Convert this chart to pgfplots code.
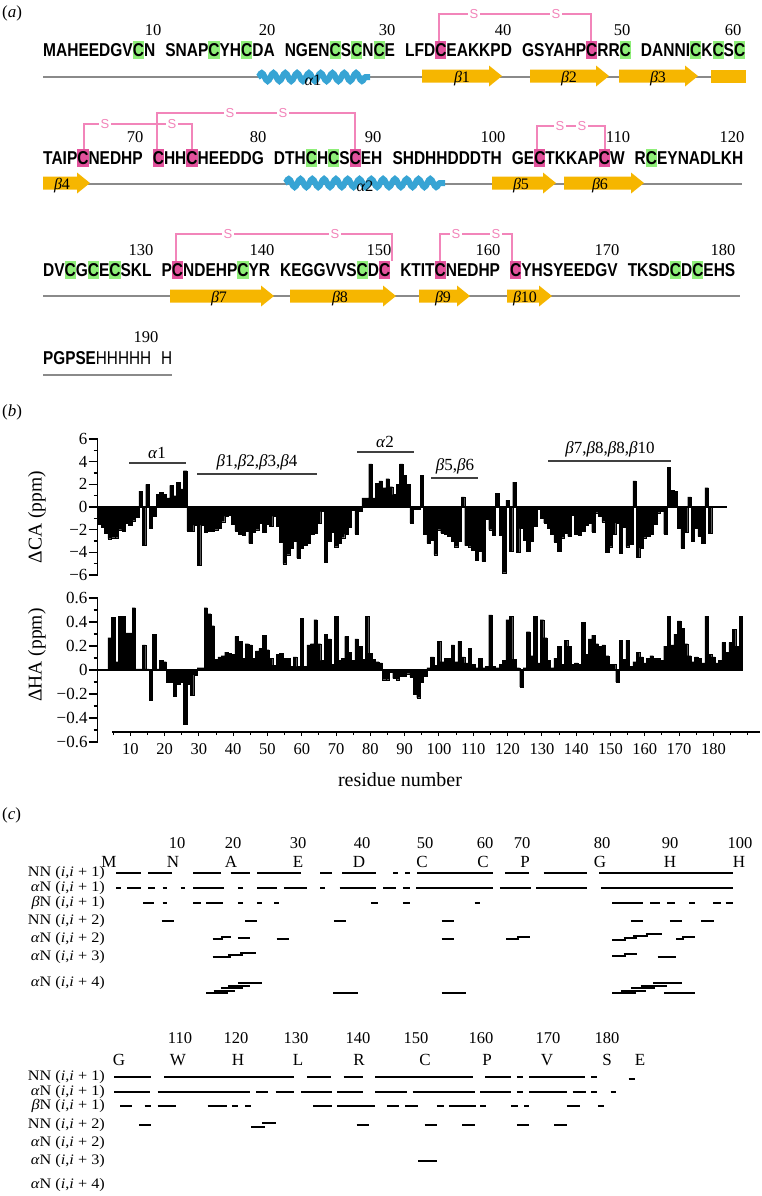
\documentclass[border=0pt]{standalone}
\usepackage{pgfplots}
\usepackage{pgfplotstable}
\pgfplotsset{compat=1.18}
\usepackage{fontspec}
\usepackage{graphicx}
\setmainfont{Liberation Serif}
\newfontfamily\seqfont{Liberation Sans}
\usetikzlibrary{decorations.pathmorphing}
\definecolor{cgreen}{HTML}{8EEE78}
\definecolor{cmag}{HTML}{E2529C}
\definecolor{cpink}{HTML}{F285BA}
\definecolor{cgold}{HTML}{F6B600}
\definecolor{cblue}{HTML}{37A4D4}
\definecolor{cgray}{HTML}{8A8A8A}
\newcommand{\fs}[1]{\fontsize{#1}{#1}\selectfont}
\newcommand{\hl}[2]{\setbox0=\hbox{#2}\rlap{\smash{\textcolor{#1}{\rule[-0.18\ht0]{\wd0}{1.36\ht0}}}}#2}
\newcommand{\G}{\hl{cgreen}{C}}
\newcommand{\M}{\hl{cmag}{C}}
\newcommand{\bs}{\hspace{0.65em}}
\newcommand{\rl}[2]{\scalebox{1.12}[1]{#1 (\textit{i},\textit{i} + #2)}}
\newcommand{\sg}[3]{\addplot[black, line width=2pt] coordinates {(#1,#3) (#2,#3)};}

\pgfplotstableread{
r v
1 -1.5
2 -1.8
3 -2.3
4 -2.8
5 -2.7
6 -2.7
7 -2.0
8 -2.1
9 -1.4
10 -1.6
11 -1.2
12 -0.9
13 1.4
14 -3.4
15 2.0
16 -1.9
17 -0.8
18 1.1
19 1.3
20 1.1
21 0.8
22 1.9
23 1.0
24 2.2
25 1.6
26 3.2
27 -2.1
28 -2.1
29 -1.6
30 -5.1
31 -1.6
32 -2.2
33 -2.1
34 -2.1
35 -2.0
36 -1.9
37 -1.3
38 -0.8
39 -0.7
40 -1.5
41 -2.1
42 -2.4
43 -2.5
44 -2.1
45 -3.2
46 -2.2
47 -2.0
48 -1.4
49 -2.2
50 -1.5
51 -1.7
52 -0.8
53 -1.7
54 -3.1
55 -5.0
56 -4.2
57 -3.6
58 -3.0
59 -4.5
60 -3.6
61 -3.4
62 -3.2
63 -2.4
64 -2.3
65 -1.4
66 -0.4
67 -4.9
68 -3.0
69 -2.2
70 -3.5
71 -3.2
72 -2.7
73 -2.4
74 -1.8
75 -0.3
76 -2.4
77 -0.4
78 0.8
79 0.8
80 3.8
81 0.8
82 2.1
83 2.3
84 1.7
85 2.5
86 1.8
87 1.1
88 2.0
89 3.8
90 2.8
91 2.0
92 -1.4
93 -0.2
94 -0.2
95 2.8
96 -2.4
97 -3.2
98 -2.9
99 -4.2
100 -2.0
101 -2.3
102 -2.4
103 -2.6
104 -3.0
105 -3.5
106 -3.0
107 0.9
108 -3.4
109 -3.5
110 -3.8
111 -4.7
112 -3.9
113 -4.8
114 -1.1
115 -2.0
116 -2.5
117 1.2
118 -2.5
119 -5.8
120 0.6
121 -3.9
122 2.2
123 -4.0
124 -1.9
125 -2.9
126 -3.9
127 -3.0
128 -1.7
129 -0.2
130 -1.0
131 -1.4
132 -1.9
133 -2.4
134 -3.1
135 -3.9
136 -2.7
137 -2.3
138 -2.6
139 -0.7
140 -2.4
141 -2.5
142 -2.1
143 -1.6
144 -1.4
145 -2.2
146 -0.5
147 -0.8
148 -1.3
149 -4.0
150 -3.5
151 -2.4
152 -1.4
153 -4.1
154 -1.8
155 -3.5
156 -3.3
157 2.3
158 -4.4
159 -3.6
160 -2.7
161 -2.6
162 -2.4
163 -1.5
164 -0.5
165 -0.4
166 -2.4
167 3.5
168 1.5
169 1.4
170 -1.9
171 -3.6
172 -2.2
173 0.9
174 -3.0
175 -1.9
176 -2.6
177 -3.2
178 1.7
179 -2.3
}\dca

\pgfplotstableread{
r v
4 0.27
5 0.44
6 0.07
7 0.45
8 0.45
9 0.31
10 0.31
11 0.52
12 0.01
13 0.01
14 0.21
15 0.01
16 -0.25
17 0.30
18 0.01
19 0.08
20 0.07
21 -0.10
22 -0.10
23 -0.22
24 -0.12
25 -0.10
26 -0.45
27 -0.12
28 -0.21
29 -0.04
30 0.02
31 0.02
32 0.52
33 0.47
34 0.37
35 0.09
36 0.11
37 0.12
38 0.15
39 0.14
40 0.13
41 0.28
42 0.24
43 0.10
44 0.22
45 0.21
46 0.10
47 0.16
48 0.18
49 0.29
50 0.17
51 0.10
52 0.04
53 0.13
54 0.14
55 0.10
56 0.10
57 0.03
58 0.11
59 0.03
60 0.43
61 0.03
62 0.21
63 0.22
64 0.42
65 0.22
66 0.08
67 0.30
68 0.26
69 0.05
70 0.45
71 0.08
72 0.10
73 0.28
74 0.15
75 0.08
76 0.26
77 0.20
78 0.09
79 0.45
80 0.14
81 0.09
82 0.07
83 0.06
84 -0.08
85 -0.08
86 -0.02
87 -0.07
88 -0.08
89 -0.05
90 -0.05
91 -0.03
92 -0.06
93 -0.20
94 -0.23
95 -0.10
96 -0.05
97 0.02
98 0.11
99 0.04
100 0.24
101 0.07
102 0.10
103 0.10
104 0.21
105 0.07
106 0.24
107 0.11
108 0.06
109 0.18
110 0.05
111 0.02
112 0.10
113 0.02
114 0.03
115 0.46
116 0.03
117 0.02
118 0.05
119 0.08
120 0.42
121 0.45
122 0.09
123 0.02
124 -0.14
125 0.02
126 0.32
127 0.12
128 0.45
129 0.06
130 0.42
131 0.27
132 0.08
133 0.02
134 0.10
135 0.20
136 0.05
137 0.25
138 0.20
139 0.05
140 0.06
141 0.05
142 0.40
143 0.13
144 0.26
145 0.29
146 0.22
147 0.20
148 0.21
149 0.12
150 0.05
151 0.05
152 -0.10
153 0.25
154 0.09
155 0.25
156 0.03
157 0.07
158 0.15
159 0.11
160 0.06
161 0.10
162 0.12
163 0.10
164 0.10
165 0.08
166 0.20
167 0.45
168 0.21
169 0.30
170 0.41
171 0.35
172 0.22
173 0.12
174 0.07
175 0.11
176 0.10
177 0.06
178 0.45
179 0.13
180 0.11
181 0.06
182 0.08
183 0.23
184 0.15
185 0.23
186 0.34
187 0.20
188 0.45
}\dha

\pgfplotsset{
  ov/.style={at={(0pt,0pt)}, anchor=north west, width=761pt, height=1196pt,
    scale only axis, xmin=0, xmax=761, ymin=0, ymax=1196, y dir=reverse,
    hide axis, clip=false, no markers},
  barax/.style={anchor=south west, width=662pt, scale only axis,
    xmin=0.5, xmax=193.5, axis x line=none, axis y line=left,
    axis line style={-, line width=1.4pt, black}, clip=false,
    tick align=outside, major tick length=9pt, minor tick length=4pt,
    tick style={line width=1.2pt, black},
    yticklabel style={font=\fs{17}, inner sep=0pt, anchor=east, xshift=-1pt}},
}

\begin{document}
\begin{tikzpicture}
\path[use as bounding box] (0pt,0pt) rectangle (761pt,-1196pt);

% ---------------- panel (a) and text overlay ----------------
\begin{axis}[ov]
\node[anchor=west, inner sep=0pt] at (axis cs:2,13) {\fs{17}(\textit{a})};
\node[anchor=west, inner sep=0pt] at (axis cs:2,412) {\fs{17}(\textit{b})};
\node[anchor=west, inner sep=0pt] at (axis cs:2,815) {\fs{17}(\textit{c})};

% backbone lines
\addplot[cgray, line width=2pt] coordinates {(43,77) (745,77)};
\addplot[cgray, line width=2pt] coordinates {(43,184) (742,184)};
\addplot[cgray, line width=2pt] coordinates {(43,296) (740,296)};
\addplot[cgray, line width=1.6pt] coordinates {(43,375) (172,375)};

% helices
\draw[cblue, line width=6pt, decorate, decoration={snake, segment length=11.8pt, amplitude=4pt}] (axis cs:258,77) -- (axis cs:370,77);
\draw[cblue, line width=6pt, decorate, decoration={snake, segment length=11.8pt, amplitude=4pt}] (axis cs:285,183) -- (axis cs:445,183);

% strands
\addplot[fill=cgold, draw=none] coordinates {(422,69.5) (489,69.5) (489,65.5) (502,76) (489,86.5) (489,82.5) (422,82.5)} --cycle;
\addplot[fill=cgold, draw=none] coordinates {(530,69.5) (596,69.5) (596,65.5) (609,76) (596,86.5) (596,82.5) (530,82.5)} --cycle;
\addplot[fill=cgold, draw=none] coordinates {(619,69.5) (685,69.5) (685,65.5) (698,76) (685,86.5) (685,82.5) (619,82.5)} --cycle;
\addplot[fill=cgold, draw=none] coordinates {(711,69.5) (746,69.5) (746,82.5) (711,82.5)} --cycle;
\addplot[fill=cgold, draw=none] coordinates {(43,176.5) (77,176.5) (77,172.5) (90,183) (77,193.5) (77,189.5) (43,189.5)} --cycle;
\addplot[fill=cgold, draw=none] coordinates {(492,176.5) (543,176.5) (543,172.5) (556,183) (543,193.5) (543,189.5) (492,189.5)} --cycle;
\addplot[fill=cgold, draw=none] coordinates {(564,176.5) (631,176.5) (631,172.5) (644,183) (631,193.5) (631,189.5) (564,189.5)} --cycle;
\addplot[fill=cgold, draw=none] coordinates {(170,289.5) (261,289.5) (261,285.5) (274,296) (261,306.5) (261,302.5) (170,302.5)} --cycle;
\addplot[fill=cgold, draw=none] coordinates {(290,289.5) (383,289.5) (383,285.5) (396,296) (383,306.5) (383,302.5) (290,302.5)} --cycle;
\addplot[fill=cgold, draw=none] coordinates {(419,289.5) (457,289.5) (457,285.5) (470,296) (457,306.5) (457,302.5) (419,302.5)} --cycle;
\addplot[fill=cgold, draw=none] coordinates {(507,289.5) (539,289.5) (539,285.5) (552,296) (539,306.5) (539,302.5) (507,302.5)} --cycle;

% secondary structure labels
\node at (axis cs:313,80) {\fs{16}\textit{α}1};
\node at (axis cs:462,79) {\fs{16}\textit{β}1};
\node at (axis cs:569,79) {\fs{16}\textit{β}2};
\node at (axis cs:658,79) {\fs{16}\textit{β}3};
\node at (axis cs:62,186) {\fs{16}\textit{β}4};
\node at (axis cs:365,186) {\fs{16}\textit{α}2};
\node at (axis cs:521,186) {\fs{16}\textit{β}5};
\node at (axis cs:600,186) {\fs{16}\textit{β}6};
\node at (axis cs:219,299) {\fs{16}\textit{β}7};
\node at (axis cs:340,299) {\fs{16}\textit{β}8};
\node at (axis cs:443,299) {\fs{16}\textit{β}9};
\node at (axis cs:525,299) {\fs{16}\textit{β}10};

% disulfide brackets
\addplot[cpink, line width=1.1pt] coordinates {(439,42) (439,14) (591,14) (591,42)};
\addplot[cpink, line width=1.1pt] coordinates {(84,149) (84,124) (192,124) (192,149)};
\addplot[cpink, line width=1.1pt] coordinates {(157,149) (157,113) (355,113) (355,149)};
\addplot[cpink, line width=1.1pt] coordinates {(537,149) (537,126) (605,126) (605,149)};
\addplot[cpink, line width=1.1pt] coordinates {(176,261) (176,234) (392,234) (392,261)};
\addplot[cpink, line width=1.1pt] coordinates {(440,261) (440,234) (512,234) (512,261)};
\tikzset{sl/.style={fill=white, inner sep=1.5pt, text=cpink, font=\seqfont\fs{13}}}
\node[sl] at (axis cs:474,14) {S};
\node[sl] at (axis cs:556,14) {S};
\node[sl] at (axis cs:105,124) {S};
\node[sl] at (axis cs:172,124) {S};
\node[sl] at (axis cs:230,113) {S};
\node[sl] at (axis cs:283,113) {S};
\node[sl] at (axis cs:560,126) {S};
\node[sl] at (axis cs:582,126) {S};
\node[sl] at (axis cs:228,234) {S};
\node[sl] at (axis cs:335,234) {S};
\node[sl] at (axis cs:456,234) {S};
\node[sl] at (axis cs:496,234) {S};

% sequence rows
\node[anchor=base west, inner sep=0pt] at (axis cs:43,56.5) {\resizebox{702pt}{13pt}{\seqfont\bfseries MAHEEDGV\G N\bs SNAP\G YH\G DA\bs NGEN\G S\G N\G E\bs LFD\M EAKKPD\bs GSYAHP\M RR\G\bs DANNI\G K\G S\G}};
\node[anchor=base west, inner sep=0pt] at (axis cs:43,164.5) {\resizebox{700pt}{13pt}{\seqfont\bfseries TAIP\M NEDHP\bs \M HH\M HEEDDG\bs DTH\G H\G S\M EH\bs SHDHHDDDTH\bs GE\M TKKAP\M W\bs R\G EYNADLKH}};
\node[anchor=base west, inner sep=0pt] at (axis cs:43,276.5) {\resizebox{692pt}{13pt}{\seqfont\bfseries DV\G G\G E\G SKL\bs P\M NDEHP\G YR\bs KEGGVVS\G D\M\bs KTIT\M NEDHP\bs \M YHSYEEDGV\bs TKSD\G D\G EHS}};
\node[anchor=base west, inner sep=0pt] at (axis cs:43,364.5) {\resizebox{129pt}{13pt}{\seqfont\bfseries PGPSE{\mdseries HHHHH\bs H}}};

% residue numbers in (a)
\tikzset{nm/.style={inner sep=0pt, font=\fs{16.5}}}
\node[nm] at (axis cs:153,30) {10};
\node[nm] at (axis cs:267,30) {20};
\node[nm] at (axis cs:387,30) {30};
\node[nm] at (axis cs:503,30) {40};
\node[nm] at (axis cs:622,30) {50};
\node[nm] at (axis cs:733,30) {60};
\node[nm] at (axis cs:135,137) {70};
\node[nm] at (axis cs:258,137) {80};
\node[nm] at (axis cs:373,137) {90};
\node[nm] at (axis cs:493,137) {100};
\node[nm] at (axis cs:618,137) {110};
\node[nm] at (axis cs:732,137) {120};
\node[nm] at (axis cs:141,250) {130};
\node[nm] at (axis cs:262,250) {140};
\node[nm] at (axis cs:379,250) {150};
\node[nm] at (axis cs:488,250) {160};
\node[nm] at (axis cs:607,250) {170};
\node[nm] at (axis cs:723,250) {180};
\node[nm] at (axis cs:146,337) {190};

% panel (b) annotations
\addplot[black!75, line width=1.1pt] coordinates {(129,463) (186,463)};
\addplot[black!75, line width=1.1pt] coordinates {(197,474) (317,474)};
\addplot[black!75, line width=1.1pt] coordinates {(357,452) (414,452)};
\addplot[black!75, line width=1.1pt] coordinates {(431,478) (478,478)};
\addplot[black!75, line width=1.1pt] coordinates {(548,461) (671,461)};
\tikzset{an/.style={anchor=south, inner sep=0pt, font=\fs{17}}}
\node[an] at (axis cs:157,459) {\textit{α}1};
\node[an] at (axis cs:257,470) {\textit{β}1,\textit{β}2,\textit{β}3,\textit{β}4};
\node[an] at (axis cs:385,448) {\textit{α}2};
\node[an] at (axis cs:455,474) {\textit{β}5,\textit{β}6};
\node[an] at (axis cs:610,457) {\textit{β}7,\textit{β}8,\textit{β}8,\textit{β}10};
\node[rotate=90, inner sep=0pt] at (axis cs:37,517) {\fs{19.5}ΔCA (ppm)};
\node[rotate=90, inner sep=0pt] at (axis cs:37,655) {\fs{19.5}ΔHA (ppm)};
\node[inner sep=0pt] at (axis cs:400,780) {\fs{20}residue number};

% panel (c) text
\node[nm] at (axis cs:177,843) {10};
\node[nm] at (axis cs:233,843) {20};
\node[nm] at (axis cs:298,843) {30};
\node[nm] at (axis cs:362,843) {40};
\node[nm] at (axis cs:425,843) {50};
\node[nm] at (axis cs:485,843) {60};
\node[nm] at (axis cs:522,843) {70};
\node[nm] at (axis cs:602,843) {80};
\node[nm] at (axis cs:670,843) {90};
\node[nm] at (axis cs:740,843) {100};
\tikzset{lt/.style={inner sep=0pt, font=\fs{17}}}
\node[lt] at (axis cs:109,862) {M};
\node[lt] at (axis cs:173,862) {N};
\node[lt] at (axis cs:231,862) {A};
\node[lt] at (axis cs:298,862) {E};
\node[lt] at (axis cs:359,862) {D};
\node[lt] at (axis cs:422,862) {C};
\node[lt] at (axis cs:483,862) {C};
\node[lt] at (axis cs:525,862) {P};
\node[lt] at (axis cs:600,862) {G};
\node[lt] at (axis cs:670,862) {H};
\node[lt] at (axis cs:739,862) {H};
\node[nm] at (axis cs:180,1038) {110};
\node[nm] at (axis cs:236,1038) {120};
\node[nm] at (axis cs:296,1038) {130};
\node[nm] at (axis cs:358,1038) {140};
\node[nm] at (axis cs:416,1038) {150};
\node[nm] at (axis cs:481,1038) {160};
\node[nm] at (axis cs:548,1038) {170};
\node[nm] at (axis cs:607,1038) {180};
\node[lt] at (axis cs:119,1060) {G};
\node[lt] at (axis cs:178,1060) {W};
\node[lt] at (axis cs:238,1060) {H};
\node[lt] at (axis cs:298,1060) {L};
\node[lt] at (axis cs:359,1060) {R};
\node[lt] at (axis cs:425,1060) {C};
\node[lt] at (axis cs:487,1060) {P};
\node[lt] at (axis cs:547,1060) {V};
\node[lt] at (axis cs:607,1060) {S};
\node[lt] at (axis cs:640,1060) {E};
\tikzset{rlab/.style={anchor=east, inner sep=0pt, font=\fs{14.5}}}
\node[rlab] at (axis cs:105,873) {\rl{NN}{1}};
\node[rlab] at (axis cs:105,888) {\rl{\textit{α}N}{1}};
\node[rlab] at (axis cs:105,903) {\rl{\textit{β}N}{1}};
\node[rlab] at (axis cs:105,921) {\rl{NN}{2}};
\node[rlab] at (axis cs:105,939) {\rl{\textit{α}N}{2}};
\node[rlab] at (axis cs:105,957) {\rl{\textit{α}N}{3}};
\node[rlab] at (axis cs:105,983) {\rl{\textit{α}N}{4}};
\node[rlab] at (axis cs:105,1077) {\rl{NN}{1}};
\node[rlab] at (axis cs:105,1092) {\rl{\textit{α}N}{1}};
\node[rlab] at (axis cs:105,1106) {\rl{\textit{β}N}{1}};
\node[rlab] at (axis cs:105,1125) {\rl{NN}{2}};
\node[rlab] at (axis cs:105,1143) {\rl{\textit{α}N}{2}};
\node[rlab] at (axis cs:105,1161) {\rl{\textit{α}N}{3}};
\node[rlab] at (axis cs:105,1185) {\rl{\textit{α}N}{4}};
\end{axis}

% ---------------- panel (b): Delta CA ----------------
\begin{axis}[barax, at={(97.7pt,-575pt)}, height=136pt, ymin=-6, ymax=6,
  ytick={-6,-4,-2,0,2,4,6}, yticklabels={−6,−4,−2,0,2,4,6},
  minor ytick={-5,-3,-1,1,3,5}]
\addplot[ybar, bar width=1, fill=black, draw=black, line width=0.2pt] table[x=r, y=v] {\dca};
\addplot[black, line width=1.3pt] coordinates {(0.5,0) (184,0)};
\end{axis}

% ---------------- panel (b): Delta HA ----------------
\begin{axis}[barax, at={(97.7pt,-742pt)}, height=144pt, ymin=-0.6, ymax=0.6,
  ytick={-0.6,-0.4,-0.2,0,0.2,0.4,0.6}, yticklabels={−0.6,−0.4,−0.2,0,0.2,0.4,0.6},
  minor ytick={-0.5,-0.3,-0.1,0.1,0.3,0.5}]
\addplot[ybar, bar width=1, fill=black, draw=black, line width=0.2pt] table[x=r, y=v] {\dha};
\addplot[black, line width=1.3pt] coordinates {(0.5,0) (188.5,0)};
\end{axis}

% ---------------- residue axis ----------------
\begin{axis}[at={(112.1pt,-732pt)}, anchor=south west, width=647.6pt, height=10pt,
  scale only axis, xmin=4.7, xmax=193.5, ymin=0, ymax=1,
  axis x line=bottom, axis y line=none, axis line style={-, line width=1.3pt, black},
  xtick={10,20,30,40,50,60,70,80,90,100,110,120,130,140,150,160,170,180},
  xticklabels={10,20,30,40,50,60,70,80,90,100,110,120,130,140,150,160,170,180},
  minor xtick={5,15,25,35,45,55,65,75,85,95,105,115,125,135,145,155,165,175,185,190},
  tick align=outside, major tick length=4pt, minor tick length=3pt,
  tick style={line width=1pt, black},
  xticklabel style={font=\fs{16.5}, inner sep=0pt, anchor=north, yshift=-7pt}]
\end{axis}

% ---------------- panel (c): NOE connectivities ----------------
\begin{axis}[ov, xmax=1568]
% block 1
\sg{240}{290}{873}\sg{305}{355}{873}\sg{398}{455}{873}\sg{475}{515}{873}\sg{530}{620}{873}
\sg{660}{685}{873}\sg{705}{775}{873}\sg{810}{820}{873}\sg{835}{845}{873}\sg{860}{1015}{873}
\sg{1040}{1090}{873}\sg{1120}{1210}{873}\sg{1235}{1510}{873}
\sg{240}{250}{888}\sg{262}{290}{888}\sg{305}{320}{888}\sg{335}{345}{888}\sg{372}{382}{888}
\sg{398}{462}{888}\sg{490}{500}{888}\sg{530}{570}{888}\sg{585}{632}{888}\sg{660}{670}{888}
\sg{700}{775}{888}\sg{790}{815}{888}\sg{830}{845}{888}\sg{858}{1015}{888}\sg{1030}{1095}{888}
\sg{1105}{1210}{888}\sg{1238}{1510}{888}
\sg{295}{318}{903}\sg{335}{345}{903}\sg{398}{415}{903}\sg{425}{460}{903}\sg{490}{500}{903}
\sg{530}{540}{903}\sg{565}{575}{903}\sg{765}{778}{903}\sg{830}{845}{903}\sg{978}{990}{903}
\sg{1262}{1325}{903}\sg{1340}{1360}{903}\sg{1375}{1390}{903}\sg{1420}{1432}{903}
\sg{1470}{1485}{903}\sg{1495}{1510}{903}
\sg{333}{358}{921}\sg{505}{530}{921}\sg{688}{712}{921}\sg{910}{935}{921}\sg{1300}{1325}{921}
\sg{1380}{1405}{921}\sg{1445}{1472}{921}
\sg{438}{460}{939}\sg{455}{475}{937}\sg{490}{515}{938}\sg{570}{595}{939}\sg{910}{935}{939}
\sg{1043}{1070}{939}\sg{1065}{1092}{937}\sg{1262}{1290}{940}\sg{1285}{1312}{938}
\sg{1305}{1335}{936}\sg{1330}{1365}{934}\sg{1393}{1410}{939}\sg{1405}{1432}{937}
\sg{438}{475}{957}\sg{470}{500}{955}\sg{495}{528}{953}\sg{1262}{1290}{956}\sg{1285}{1312}{954}
\sg{1355}{1392}{957}
\sg{425}{470}{993}\sg{440}{485}{990.5}\sg{455}{500}{988}\sg{470}{515}{985.5}\sg{490}{540}{983}
\sg{687}{738}{993}\sg{910}{960}{993}
\sg{1262}{1310}{993}\sg{1280}{1330}{990.5}\sg{1300}{1350}{988}\sg{1320}{1375}{985.5}
\sg{1345}{1405}{983}\sg{1368}{1432}{993}
% block 2
\sg{235}{312}{1077}\sg{338}{605}{1077}\sg{633}{683}{1077}\sg{708}{748}{1077}\sg{773}{975}{1077}
\sg{1000}{1052}{1077}\sg{1065}{1078}{1077}\sg{1090}{1205}{1077}\sg{1218}{1230}{1077}
\sg{1295}{1308}{1079}
\sg{235}{310}{1092}\sg{325}{515}{1092}\sg{528}{552}{1092}\sg{568}{605}{1092}\sg{620}{685}{1092}
\sg{695}{748}{1092}\sg{773}{838}{1092}\sg{850}{978}{1092}\sg{990}{1053}{1092}\sg{1065}{1078}{1092}
\sg{1090}{1168}{1092}\sg{1180}{1207}{1092}\sg{1218}{1230}{1092}\sg{1258}{1270}{1092}
\sg{248}{272}{1106}\sg{298}{312}{1106}\sg{325}{362}{1106}\sg{428}{468}{1106}\sg{478}{490}{1106}
\sg{505}{518}{1106}\sg{645}{685}{1106}\sg{695}{772}{1106}\sg{798}{822}{1106}\sg{835}{862}{1106}
\sg{900}{915}{1106}\sg{925}{980}{1106}\sg{990}{1002}{1106}\sg{1053}{1068}{1106}\sg{1080}{1090}{1106}
\sg{1168}{1195}{1106}\sg{1232}{1245}{1106}
\sg{287}{312}{1125}\sg{518}{545}{1127}\sg{540}{568}{1123}\sg{735}{760}{1125}\sg{875}{900}{1125}
\sg{952}{978}{1125}\sg{1065}{1090}{1125}\sg{1142}{1168}{1125}
\sg{862}{900}{1161}
\end{axis}
\end{tikzpicture}
\end{document}
